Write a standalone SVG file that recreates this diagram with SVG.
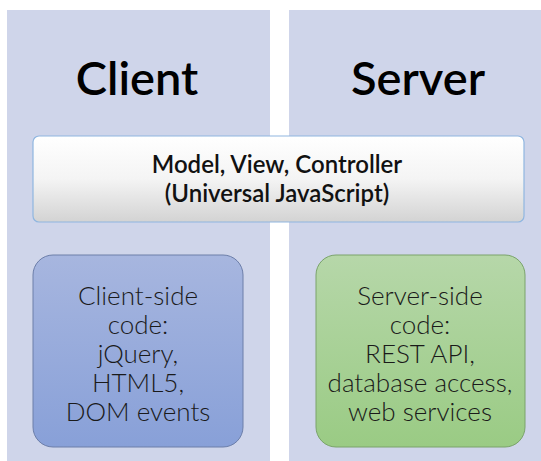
<svg xmlns="http://www.w3.org/2000/svg" width="541" height="461" viewBox="0 0 541 461">
  <defs>
    <linearGradient id="gMid" x1="0" y1="0" x2="0" y2="1">
      <stop offset="0" stop-color="#ffffff"/>
      <stop offset="0.5" stop-color="#f4f4f4"/>
      <stop offset="1" stop-color="#d3d3d3"/>
    </linearGradient>
    <linearGradient id="gClient" x1="0" y1="0" x2="0" y2="1">
      <stop offset="0" stop-color="#a7b6df"/>
      <stop offset="1" stop-color="#88a0d8"/>
    </linearGradient>
    <linearGradient id="gServer" x1="0" y1="0" x2="0" y2="1">
      <stop offset="0" stop-color="#b6d7a9"/>
      <stop offset="1" stop-color="#9acb84"/>
    </linearGradient>
  </defs>
  <style>
    .panel { fill: #cfd5ea; }
    .title { font-family: Lato, "Liberation Sans", sans-serif; font-weight: 600; font-size: 47px; fill: #000; text-anchor: middle; }
    .mid { font-family: Lato, "Liberation Sans", sans-serif; font-weight: 600; font-size: 24px; fill: #111; text-anchor: middle; }
    .code { font-family: Lato, "Liberation Sans", sans-serif; font-weight: 300; font-size: 26px; fill: #1a1a1a; text-anchor: middle; }
  </style>
  <g id="client-panel">
    <rect class="panel" x="7" y="10" width="263" height="451"/>
    <text class="title" x="137" y="95">Client</text>
  </g>
  <g id="server-panel">
    <rect class="panel" x="289" y="10" width="252" height="451"/>
    <text class="title" x="418" y="95">Server</text>
  </g>
  <g id="connectors"></g>
  <g id="mvc">
    <rect x="33" y="136" width="491" height="86" rx="6" fill="url(#gMid)" stroke="#8fb6e0" stroke-width="1.2"/>
    <text class="mid" x="277" y="173">Model, View, Controller</text>
    <text class="mid" x="277" y="202">(Universal JavaScript)</text>
  </g>
  <g id="client-code">
    <rect x="33" y="255" width="210" height="192" rx="20" fill="url(#gClient)" stroke="#6c7ea9" stroke-width="1"/>
    <text class="code" x="138" y="305">Client-side</text>
    <text class="code" x="138" y="334">code:</text>
    <text class="code" x="138" y="363">jQuery,</text>
    <text class="code" x="138" y="392">HTML5,</text>
    <text class="code" x="138" y="421">DOM events</text>
  </g>
  <g id="server-code">
    <rect x="316" y="255" width="209" height="192" rx="20" fill="url(#gServer)" stroke="#7aa36b" stroke-width="1"/>
    <text class="code" x="420" y="305">Server-side</text>
    <text class="code" x="420" y="334">code:</text>
    <text class="code" x="420" y="363">REST API,</text>
    <text class="code" x="420" y="392">database access,</text>
    <text class="code" x="420" y="421">web services</text>
  </g>
</svg>
